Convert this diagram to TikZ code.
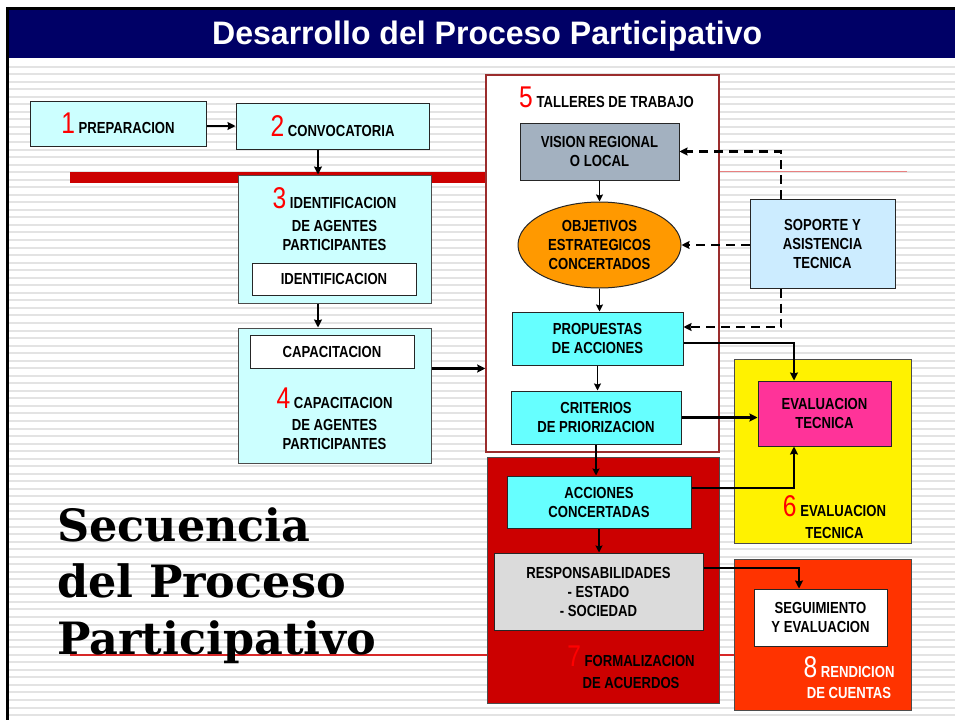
\documentclass[tikz,border=0pt]{standalone}
\usepackage{graphicx}
\usepackage{fontspec}
\setmainfont{Liberation Sans}
\newfontfamily\narrowfont{Liberation Sans}[FakeStretch=0.82]
\newfontfamily\slabfont{DejaVu Serif}
\usepackage{tikz}
\usetikzlibrary{shapes.geometric,arrows.meta}
\tikzset{>={Stealth[length=8pt,width=8pt,inset=1pt]}}

\definecolor{navy}{RGB}{0,0,102}
\definecolor{numred}{RGB}{255,0,0}
\definecolor{lightcyan}{RGB}{204,255,255}
\definecolor{aqua}{RGB}{102,255,255}
\definecolor{slate}{RGB}{163,177,192}
\definecolor{orangeobj}{RGB}{255,153,0}
\definecolor{skyblue}{RGB}{204,236,255}
\definecolor{evalpink}{RGB}{255,51,153}
\definecolor{darkred}{RGB}{204,0,0}
\definecolor{redorange}{RGB}{255,51,0}
\definecolor{maroon}{RGB}{155,45,45}
\definecolor{lightline}{RGB}{232,128,128}
\definecolor{ruled}{RGB}{215,40,40}

\newcommand\boxfont{\narrowfont\bfseries\fontsize{16}{19}\selectfont}
\newcommand\pnum[2][numred]{{\narrowfont\mdseries\fontsize{30}{30}\selectfont\color{#1}#2}}

\tikzset{
  box/.style={draw=black!85, line width=1pt, inner sep=0pt, align=center, font=\boxfont},
  frame/.style={draw=black!70, line width=1pt, inner sep=0pt},
  label/.style={inner sep=0pt, align=center, font=\boxfont},
  flow/.style={->, line width=2.4pt},
  thinflow/.style={-{Stealth[length=7pt,width=7pt,inset=1pt]}, line width=1.7pt},
  dashflow/.style={->, line width=2.6pt, dash pattern=on 9pt off 6pt},
  stripe/.style={fill=gray!22}
}

\begin{document}
\begin{tikzpicture}[x=1pt,y=-1pt]
  \fill[white] (0,0) rectangle (955,720);
  \useasboundingbox (0,0) rectangle (955,720);

  % striped page
  \foreach \k in {0,...,86} {
    \fill[stripe] (9,{65.6+7.54*\k}) rectangle (955,{67.6+7.54*\k});
  }
  \fill[black] (6,7) rectangle (9,720);
  \fill[black] (6,7) rectangle (955,10);
  \fill[navy] (9,10) rectangle (955,58);

  % title
  \node[anchor=base west, inner sep=0pt, text=white,
        font=\narrowfont\bfseries\fontsize{32.5}{36}\selectfont] (title) at (212,44.3)
        {\resizebox{550pt}{\height}{Desarrollo del Proceso Participativo}};

  % red rules
  \fill[darkred] (70,172) rectangle (487,183);
  \draw[lightline, line width=1.5pt] (719,171.7) -- (907,171.7);
  \draw[ruled, line width=1.2pt] (70,655) -- (735,655);

  % big caption
  \node[anchor=north west, inner sep=0pt, align=left,
        font=\slabfont\bfseries\fontsize{44.5}{56.5}\selectfont] (seqtitle) at (57,507)
        {Secuencia\\del Proceso\\Participativo};

  % steps 1 to 4
  \node[box, fill=lightcyan, minimum width=176pt, minimum height=45pt] (prep) at (118,123.5) {\pnum{1} PREPARACION};
  \node[box, fill=lightcyan, minimum width=193pt, minimum height=46pt] (conv) at (332.5,126) {\pnum{2} CONVOCATORIA};

  \node[frame, fill=lightcyan, minimum width=193pt, minimum height=128pt] (ident) at (334.5,239) {};
  \node[label, anchor=north] (identtxt) at (334.5,187) {\pnum{3} IDENTIFICACION\\[4pt] DE AGENTES\\ PARTICIPANTES};
  \node[box, fill=white, minimum width=164pt, minimum height=32pt] (identin) at (334,279) {IDENTIFICACION};

  \node[frame, fill=lightcyan, minimum width=193pt, minimum height=135pt] (capac) at (334.5,395.5) {};
  \node[box, fill=white, minimum width=164pt, minimum height=33pt] (capin) at (332,351.5) {CAPACITACION};
  \node[label, anchor=north] (capactxt) at (334.5,388) {\pnum{4} CAPACITACION\\[3pt] DE AGENTES\\ PARTICIPANTES};

  % containers 5 to 8
  \node[draw=maroon, line width=1.5pt, fill=white, inner sep=0pt, minimum width=233pt, minimum height=377pt] (tall) at (602.5,263.5) {};
  \node[label, anchor=base] (talltxt) at (606.5,107) {\pnum{5} TALLERES DE TRABAJO};
  \node[frame, fill=darkred, minimum width=232pt, minimum height=246pt] (form) at (603,580) {};
  \node[label, anchor=north] (formtxt) at (631,645.7) {\pnum{7} FORMALIZACION\\[3pt] DE ACUERDOS};
  \node[frame, fill=yellow, minimum width=177pt, minimum height=184pt] (evalbox) at (822.5,451) {};
  \node[label, anchor=north] (evaltxt) at (834.5,495.7) {\pnum{6} EVALUACION\\[3pt] TECNICA};
  \node[frame, fill=redorange, minimum width=177pt, minimum height=151pt] (rend) at (822.5,634.5) {};
  \node[label, anchor=north, text=white] (rendtxt) at (849,656.7) {\pnum[white]{8} RENDICION\\[2pt] DE CUENTAS};

  % workshop steps
  \node[box, fill=slate, minimum width=159pt, minimum height=57pt] (vis) at (599.5,151.5) {VISION REGIONAL\\O LOCAL};
  \node[box, ellipse, fill=orangeobj, minimum width=163pt, minimum height=86pt] (obj) at (599.5,245) {OBJETIVOS\\ESTRATEGICOS\\CONCERTADOS};
  \node[box, fill=aqua, minimum width=171pt, minimum height=53pt] (prop) at (597.5,338.5) {PROPUESTAS\\DE ACCIONES};
  \node[box, fill=aqua, minimum width=170pt, minimum height=53pt] (crit) at (596,417.5) {CRITERIOS\\DE PRIORIZACION};
  \node[box, fill=aqua, minimum width=184pt, minimum height=52pt] (acc) at (599,502) {ACCIONES\\CONCERTADAS};
  \node[box, fill=black!14, minimum width=209pt, minimum height=77pt] (resp) at (598.5,591.5) {RESPONSABILIDADES\\- ESTADO\\- SOCIEDAD};

  \node[box, fill=skyblue, minimum width=145pt, minimum height=89pt] (sop) at (822.5,243.5) {SOPORTE Y\\ASISTENCIA\\TECNICA};
  \node[box, fill=evalpink, minimum width=133pt, minimum height=65pt] (evt) at (824.5,413.5) {EVALUACION\\TECNICA};
  \node[box, fill=white, minimum width=133pt, minimum height=57pt] (seg) at (820.5,617.5) {SEGUIMIENTO\\Y EVALUACION};

  % arrows
  \draw[flow] (prep.east |- conv.west) -- (conv.west);
  \draw[flow] ([xshift=-14.5pt]conv.south) -- ([xshift=-16.5pt]ident.north);
  \draw[flow] ([xshift=-16.5pt]ident.south) -- ([xshift=-16.5pt]capac.north);
  \draw[flow] (capin.south east -| capac.east) -- (capin.south east -| tall.west);

  \draw[thinflow] (vis.south) -- (obj.north);
  \draw[thinflow] (obj.south) -- (obj.south |- prop.north);
  \draw[thinflow] (prop.south) -- (prop.south |- crit.north);
  \draw[thinflow] (crit.south) -- (crit.south |- acc.north);
  \draw[thinflow] (acc.south) -- (acc.south |- resp.north);

  \draw[dashflow] ([xshift=-41.5pt]sop.north) |- (vis.east);
  \draw[dashflow] (obj.east -| sop.west) -- (obj.east);
  \draw[dashflow] ([xshift=-41.5pt]sop.south) |- ([yshift=11.5pt]prop.east);

  \draw[flow] ([yshift=-4.5pt]prop.east) -| ([xshift=-30.5pt]evt.north);
  \draw[flow] (crit.east) -- (crit.east -| evt.west);
  \draw[flow] ([yshift=14pt]acc.east) -| ([xshift=-30.5pt]evt.south);
  \draw[flow] ([yshift=23.5pt]resp.east) -| ([xshift=-21.5pt]seg.north);

\end{tikzpicture}
\end{document}
